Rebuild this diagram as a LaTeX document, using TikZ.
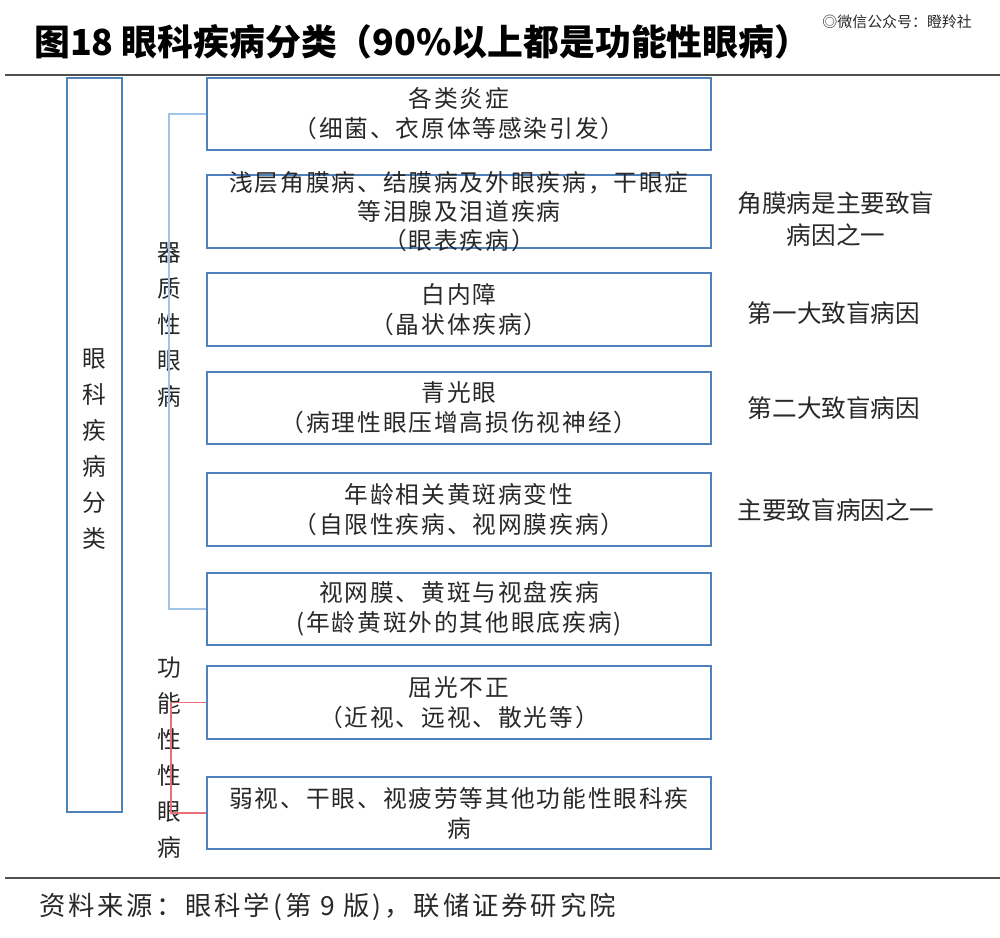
\documentclass[tikz,border=0pt]{standalone}
\usepackage{fontspec}
\newfontfamily\cjk{Noto Sans CJK SC}
\definecolor{boxblue}{RGB}{79,129,189}
\definecolor{lineblue}{RGB}{160,196,230}
\definecolor{linered}{RGB}{232,112,118}
\definecolor{rulegray}{RGB}{80,80,80}
\definecolor{ink}{RGB}{40,40,40}

\begin{document}
\begin{tikzpicture}[x=0.02cm, y=-0.02cm,
    box/.style={draw=boxblue, line width=1.1pt, minimum width=10.08cm,
        minimum height=1.45cm, inner sep=0pt, align=center, text=ink,
        font=\cjk\addfontfeature{LetterSpace=8}\fontsize{13.5}{17}\selectfont},
    boxtext/.style={align=center, text=ink, inner sep=0pt,
        font=\cjk\addfontfeature{LetterSpace=8}\fontsize{13.5}{16.5}\selectfont},
    note/.style={align=center, text=ink, font=\cjk\fontsize{14}{18}\selectfont},
    vtext/.style={align=center, text=ink, inner sep=0pt,
        font=\cjk\fontsize{13.5}{20.5}\selectfont}]
    \useasboundingbox (0,0) rectangle (1000,937);
    % title and rules
    \node[anchor=west, text=black, font=\cjk\bfseries\fontsize{20.4}{24}\selectfont]
        (title) at (28,42) {图18 眼科疾病分类（90\%以上都是功能性眼病）};
    \node[anchor=east, text=ink, font=\cjk\fontsize{8.5}{10}\selectfont]
        (mark) at (978,22) {◎微信公众号：瞪羚社};
    \draw[rulegray, line width=1.7pt] (5,75) -- (1000,75);
    \draw[rulegray, line width=1.5pt] (5,878) -- (1000,878);
    \node[anchor=west, text=ink, font=\cjk\addfontfeature{LetterSpace=11}\fontsize{15}{18}\selectfont]
        (src) at (33,907) {资料来源：眼科学(第 9 版)，联储证券研究院};

    % left column
    \node[draw=boxblue, line width=1.1pt, minimum width=1.1cm, minimum height=14.68cm,
        inner sep=0pt] (all) at (94.5,445) {};
    \node[vtext] (alltxt) at (94.5,449) {眼\\科\\疾\\病\\分\\类};
    \node[vtext] (organic) at (169,325) {器\\质\\性\\眼\\病};
    \node[vtext] (func) at (169,758) {功\\能\\性\\性\\眼\\病};

    % disease boxes
    \node[box] (b1) at (459,114) {各类炎症\\（细菌、衣原体等感染引发）};
    \node[box, label={[boxtext]center:浅层角膜病、结膜病及外眼疾病，干眼症\\等泪腺及泪道疾病\\（眼表疾病）}]
        (b2) at (459,211.5) {};
    \node[box] (b3) at (459,309.5) {白内障\\（晶状体疾病）};
    \node[box] (b4) at (459,408) {青光眼\\（病理性眼压增高损伤视神经）};
    \node[box] (b5) at (459,509.5) {年龄相关黄斑病变性\\（自限性疾病、视网膜疾病）};
    \node[box] (b6) at (459,609) {视网膜、黄斑与视盘疾病\\(年龄黄斑外的其他眼底疾病)};
    \node[box] (b7) at (459,702.5) {屈光不正\\（近视、远视、散光等）};
    \node[box] (b8) at (459,813) {弱视、干眼、视疲劳等其他功能性眼科疾\\病};

    % notes on the right
    \node[note] (n2) at (836,219) {角膜病是主要致盲\\病因之一};
    \node[note] (n3) at (834,313) {第一大致盲病因};
    \node[note] (n4) at (834,408) {第二大致盲病因};
    \node[note] (n5) at (836,510) {主要致盲病因之一};

    % brackets
    \draw[lineblue, line width=0.9pt] (b1.west) -- ++(-37,0) |- (b6.west);
    \draw[linered, line width=0.8pt] (b7.west) -- ++(-35,0) |- (b8.west);
\end{tikzpicture}
\end{document}
